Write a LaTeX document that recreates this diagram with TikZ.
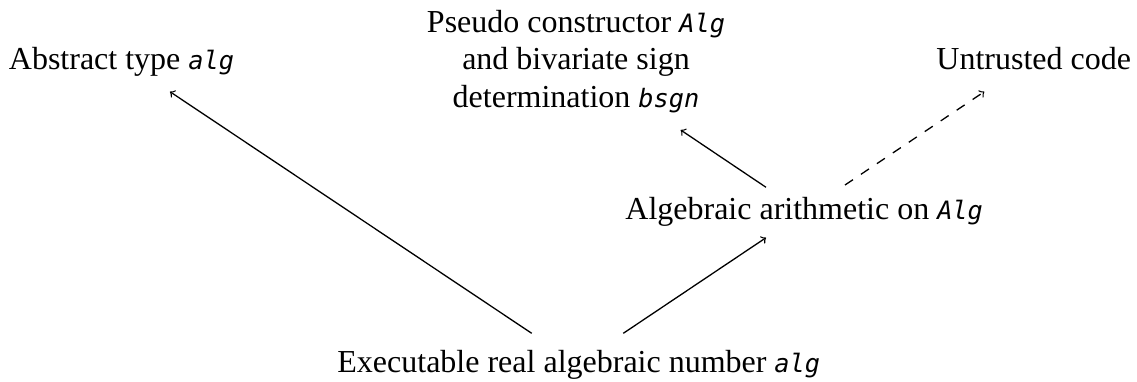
\documentclass[tikz,border=0pt]{standalone}
\usepackage{fontspec}
\setmainfont{Liberation Serif}
\setmonofont[Scale=0.79, ItalicFont={DejaVu Sans Mono Oblique}]{DejaVu Sans Mono}
\newcommand{\code}[1]{{\ttfamily\itshape #1}}
\begin{document}
\begin{tikzpicture}[x=0.5pt,y=-0.5pt,
  every node/.style={font=\fontsize{16}{18.75}\selectfont, inner sep=0pt},
  conn/.style={->, line width=0.65pt},
  dconn/.style={conn, dash pattern=on 4.8pt off 4.8pt}]
\useasboundingbox (0,0) rectangle (1137,381);
\node[anchor=base west] (abs) at (8.5,69.3) {Abstract type \code{alg}};
\node[anchor=base, align=center] (pse) at (576,107) {Pseudo constructor \code{Alg}\\and bivariate sign\\determination \code{bsgn}};
\node[anchor=base west] (unt) at (936,69) {Untrusted code};
\node[anchor=base west] (alg) at (625,219) {Algebraic arithmetic on \code{Alg}};
\node[anchor=base west] (exe) at (337,372.7) {Executable real algebraic number \code{alg}};
\draw[conn] ([shift={(194.7,-39.4)}]exe.base west) -- ([shift={(161.5,22.4)}]abs.base west);
\draw[conn] ([shift={(286.3,-39.4)}]exe.base west) -- ([shift={(141,18.7)}]alg.base west);
\draw[conn] ([shift={(141,-31.7)}]alg.base west) -- ([shift={(104.7,23)}]pse.base);
\draw[dconn] ([shift={(220,-34)}]alg.base west) -- ([shift={(48.3,22.7)}]unt.base west);
\end{tikzpicture}
\end{document}
